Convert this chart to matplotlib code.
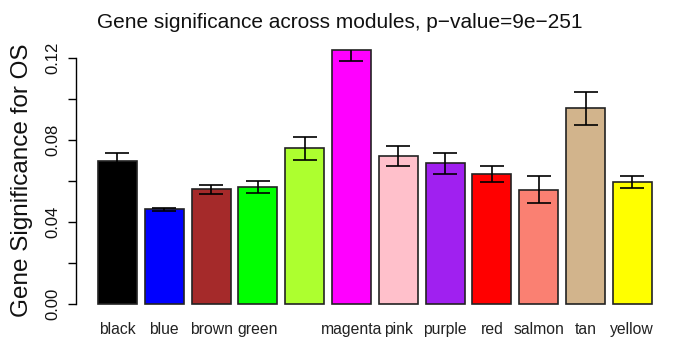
import matplotlib
matplotlib.use("Agg")
import matplotlib.pyplot as plt
import numpy as np

plt.rcParams['font.family'] = ['Liberation Sans', 'DejaVu Sans']

# module colours (R colour names) and what is printed under each bar
modules = ["black", "blue", "brown", "green", "greenyellow", "magenta",
           "pink", "purple", "red", "salmon", "tan", "yellow"]
shown_names = ["black", "blue", "brown", "green", "", "magenta",
               "pink", "purple", "red", "salmon", "tan", "yellow"]
bar_colors = ["#000000", "#0000FF", "#A52A2A", "#00FF00", "#ADFF2F", "#FF00FF",
              "#FFC0CB", "#A020F0", "#FF0000", "#FA8072", "#D2B48C", "#FFFF00"]
means = [0.0699, 0.0463, 0.0560, 0.0572, 0.0760, 0.1239,
         0.0722, 0.0686, 0.0634, 0.0557, 0.0955, 0.0594]
errors = [0.0036, 0.0007, 0.0021, 0.0030, 0.0057, 0.0054,
          0.0049, 0.0052, 0.0038, 0.0066, 0.0080, 0.0030]

yticks = [0.00, 0.02, 0.04, 0.06, 0.08, 0.10, 0.12]
ytick_labels = ["0.00", "", "0.04", "", "0.08", "", "0.12"]

fig = plt.figure(figsize=(6.74, 3.47), dpi=100)
ax = fig.add_axes([75.8 / 674, 43 / 347, (674 - 75.8) / 674, (304 - 50) / 347])

# R barplot layout: width 1, space 0.2
x = 0.7 + 1.2 * np.arange(len(means))
bars = ax.bar(x, means, width=1.0, color=bar_colors, edgecolor="#222222", linewidth=1.2)
for b in bars:
    b.set_clip_on(False)
# error bars are clipped at the plot region like in R
ax.errorbar(x, means, yerr=errors, fmt="none", ecolor="black",
            elinewidth=1.2, capsize=8.3, capthick=1.2)

ax.set_xlim(0.2 - 0.568, 14.4 + 0.568)
ax.set_ylim(0, max(means))

for s in ["top", "right", "bottom"]:
    ax.spines[s].set_visible(False)
ax.spines["left"].set_bounds(0, 0.12)
ax.spines["left"].set_linewidth(1.0)

ax.set_yticks(yticks)
ax.set_yticklabels(ytick_labels, rotation=90, va="center", fontsize=12, color="#111111")
ax.tick_params(axis="y", length=6, width=1.0, pad=5)

ax.set_xticks(x)
ax.set_xticklabels(shown_names, fontsize=11.3, color="#222222")
ax.tick_params(axis="x", length=0, pad=13)

fig.text(340 / 674, 1 - 22 / 347, "Gene significance across modules, p\u2212value=9e\u2212251",
         ha="center", va="center", fontsize=15, color="#111111")
fig.text(22 / 674, 1 - 180 / 347, "Gene Significance for OS", rotation=90,
         ha="center", va="center", fontsize=17.5, color="#111111")

fig.savefig("out.png", dpi=100)
